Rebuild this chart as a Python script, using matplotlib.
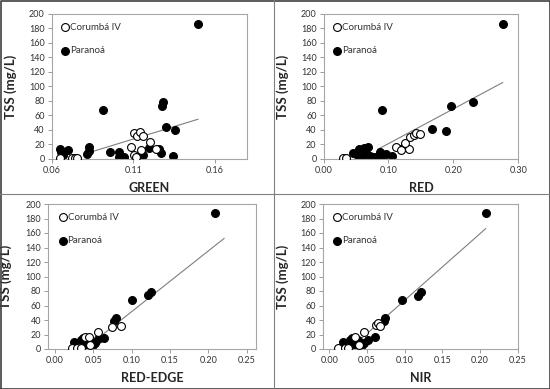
import numpy as np
import matplotlib
matplotlib.use('Agg')
import matplotlib.pyplot as plt
from matplotlib.lines import Line2D

plt.rcParams['font.family'] = ['Lato', 'DejaVu Sans']

# ── Données ────────────────────────────────────────────────────────────
green_par_x = [0.0651, 0.0699, 0.0672, 0.0660, 0.0826, 0.0826, 0.0816, 0.0912, 0.0959, 0.1015,
               0.1015, 0.1045, 0.1124, 0.1160, 0.1195, 0.1257, 0.1273, 0.1278, 0.1285, 0.1299,
               0.1354, 0.1343, 0.1497]
green_par_y = [13.4, 12.4, 5.5, 9, 16, 10.5, 6.4, 67.6, 10, 10,
               3, 3, 3, 5.5, 14.7, 13.4, 7.8, 73.6, 78, 43.7,
               40, 4.6, 186]
green_cor_x = [0.0651, 0.0723, 0.0744, 0.0758, 0.1087, 0.1103, 0.1124, 0.1144, 0.1158, 0.1103,
               0.1148, 0.1202, 0.1237, 0.1120]
green_cor_y = [1, 1, 2, 2, 16, 35.4, 32, 37, 31.7, 5.5,
               12.4, 24, 13.4, 3]
green_fit_x = [0.0846, 0.1497]
green_fit_y = [10, 54.8]

red_par_x = [0.276, 0.0899, 0.1964, 0.231, 0.1665, 0.1887, 0.045, 0.0527, 0.0553, 0.062,
             0.0693, 0.0657, 0.0709, 0.076, 0.081, 0.0864, 0.089, 0.0967, 0.1054, 0.119,
             0.124, 0.060]
red_par_y = [186, 67.6, 73, 78, 42, 39, 8.7, 4, 13.3, 14.7,
             16, 8, 4, 3, 3, 10, 4, 7, 4, 13.4,
             16, 3]
red_cor_x = [0.0295, 0.0347, 0.112, 0.119, 0.132, 0.126, 0.133, 0.1395, 0.143, 0.148]
red_cor_y = [2, 1.4, 16, 12, 13.8, 22.5, 31, 33, 36, 34]
red_fit_x = [0.0837, 0.276]
red_fit_y = [13.4, 105.5]

rededge_par_x = [0.0248, 0.034, 0.037, 0.040, 0.042, 0.045, 0.040, 0.047, 0.050, 0.052,
                 0.038, 0.044, 0.0565, 0.064, 0.079, 0.0774, 0.100, 0.121, 0.1248, 0.2087]
rededge_par_y = [9, 13, 15, 10, 5, 3, 2, 7, 5, 8,
                 6, 12, 14, 15, 43, 38, 68, 74, 79, 187]
rededge_cor_x = [0.0217, 0.029, 0.0335, 0.039, 0.0448, 0.0557, 0.074, 0.0857, 0.046]
rededge_cor_y = [1.4, 1.4, 1, 16.6, 16.6, 23, 31, 32, 6]
rededge_fit_x = [0.048, 0.2204]
rededge_fit_y = [8, 152.5]

nir_par_x = [0.0186, 0.0274, 0.0305, 0.033, 0.036, 0.038, 0.034, 0.041, 0.044, 0.046,
             0.031, 0.038, 0.0518, 0.0606, 0.0739, 0.0726, 0.096, 0.1173, 0.1212, 0.2075]
nir_par_y = [9, 13, 15, 10, 5, 3, 2, 7, 5, 8,
             6, 12, 13, 16, 43, 38, 68, 73, 79, 187]
nir_cor_x = [0.0119, 0.0208, 0.0252, 0.034, 0.0464, 0.062, 0.065, 0.067, 0.040]
nir_cor_y = [1.4, 1.4, 1, 16.6, 24, 33, 35.5, 31.8, 6]
nir_fit_x = [0.040, 0.2075]
nir_fit_y = [12, 166]

W, H = 550, 389

panneaux = [
    # (cadre px: gauche, droite, haut, bas), xlim, xticks, xlabel, données
    ((51.7, 247.3, 14, 159), (0.06, 0.18), [0.06, 0.11, 0.16], "GREEN",
     green_cor_x, green_cor_y, green_par_x, green_par_y, green_fit_x, green_fit_y),
    ((323.5, 518.3, 14, 159), (0.0, 0.30), [0.0, 0.10, 0.20, 0.30], "RED",
     red_cor_x, red_cor_y, red_par_x, red_par_y, red_fit_x, red_fit_y),
    ((48.3, 256, 204, 349), (-0.0087, 0.262), [0.0, 0.05, 0.10, 0.15, 0.20, 0.25], "RED-EDGE",
     rededge_cor_x, rededge_cor_y, rededge_par_x, rededge_par_y, rededge_fit_x, rededge_fit_y),
    ((323.3, 517.7, 204, 349), (-0.0079, 0.25), [0.0, 0.05, 0.10, 0.15, 0.20, 0.25], "NIR",
     nir_cor_x, nir_cor_y, nir_par_x, nir_par_y, nir_fit_x, nir_fit_y),
]

fig = plt.figure(figsize=(W / 100, H / 100), dpi=100)

for (l, r, t, b), xlim, xticks, xlab, cx, cy, px, py, fx, fy in panneaux:
    ax = fig.add_axes([l / W, 1 - b / H, (r - l) / W, (b - t) / H])
    ax.plot(fx, fy, color='#7f7f7f', linewidth=0.8, zorder=1)
    hc = ax.scatter(cx, cy, s=32, facecolor='white', edgecolor='black', linewidth=0.8,
                    zorder=3, label='Corumbá IV')
    hp = ax.scatter(px, py, s=32, facecolor='black', edgecolor='black', linewidth=0.8,
                    zorder=2, label='Paranoá')
    ax.set_xlim(*xlim)
    ax.set_ylim(0, 200)
    ax.set_xticks(xticks)
    ax.set_xticklabels([f'{v:.2f}' for v in xticks])
    ax.set_yticks(np.arange(0, 201, 20))
    ax.tick_params(labelsize=6.5, length=3, width=0.6, color='#8c8c8c', labelcolor='#333333', pad=2)
    for sp in ax.spines.values():
        sp.set_color('#a6a6a6')
        sp.set_linewidth(0.8)
    ax.set_xlabel(xlab, fontsize=9, fontweight='bold', color='#262626')
    ax.set_ylabel("TSS (mg/L)", fontsize=9.5, fontweight='bold', color='#262626')
    ax.xaxis.set_label_coords(0.5, -0.16)
    ax.yaxis.set_label_coords(-0.175, 0.5)
    ax.legend(handles=[hc, hp], loc='upper left', bbox_to_anchor=(0.055, 0.94), frameon=False,
              fontsize=7, handlelength=0.6, handletextpad=0.2, labelspacing=1.5,
              borderpad=0, borderaxespad=0, labelcolor='#333333')

# ── Cadres extérieurs et séparations ───────────────────────────────────
fig.add_artist(Line2D([0.5 / W, 1 - 0.5 / W, 1 - 0.5 / W, 0.5 / W, 0.5 / W],
                      [0.5 / H, 0.5 / H, 1 - 0.5 / H, 1 - 0.5 / H, 0.5 / H],
                      color='#404040', linewidth=1.2))
fig.add_artist(Line2D([274 / W, 274 / W], [0, 1], color='#808080', linewidth=0.8))
fig.add_artist(Line2D([0, 1], [1 - 193.5 / H, 1 - 193.5 / H], color='#808080', linewidth=0.8))

plt.savefig('out.png', dpi=100)
